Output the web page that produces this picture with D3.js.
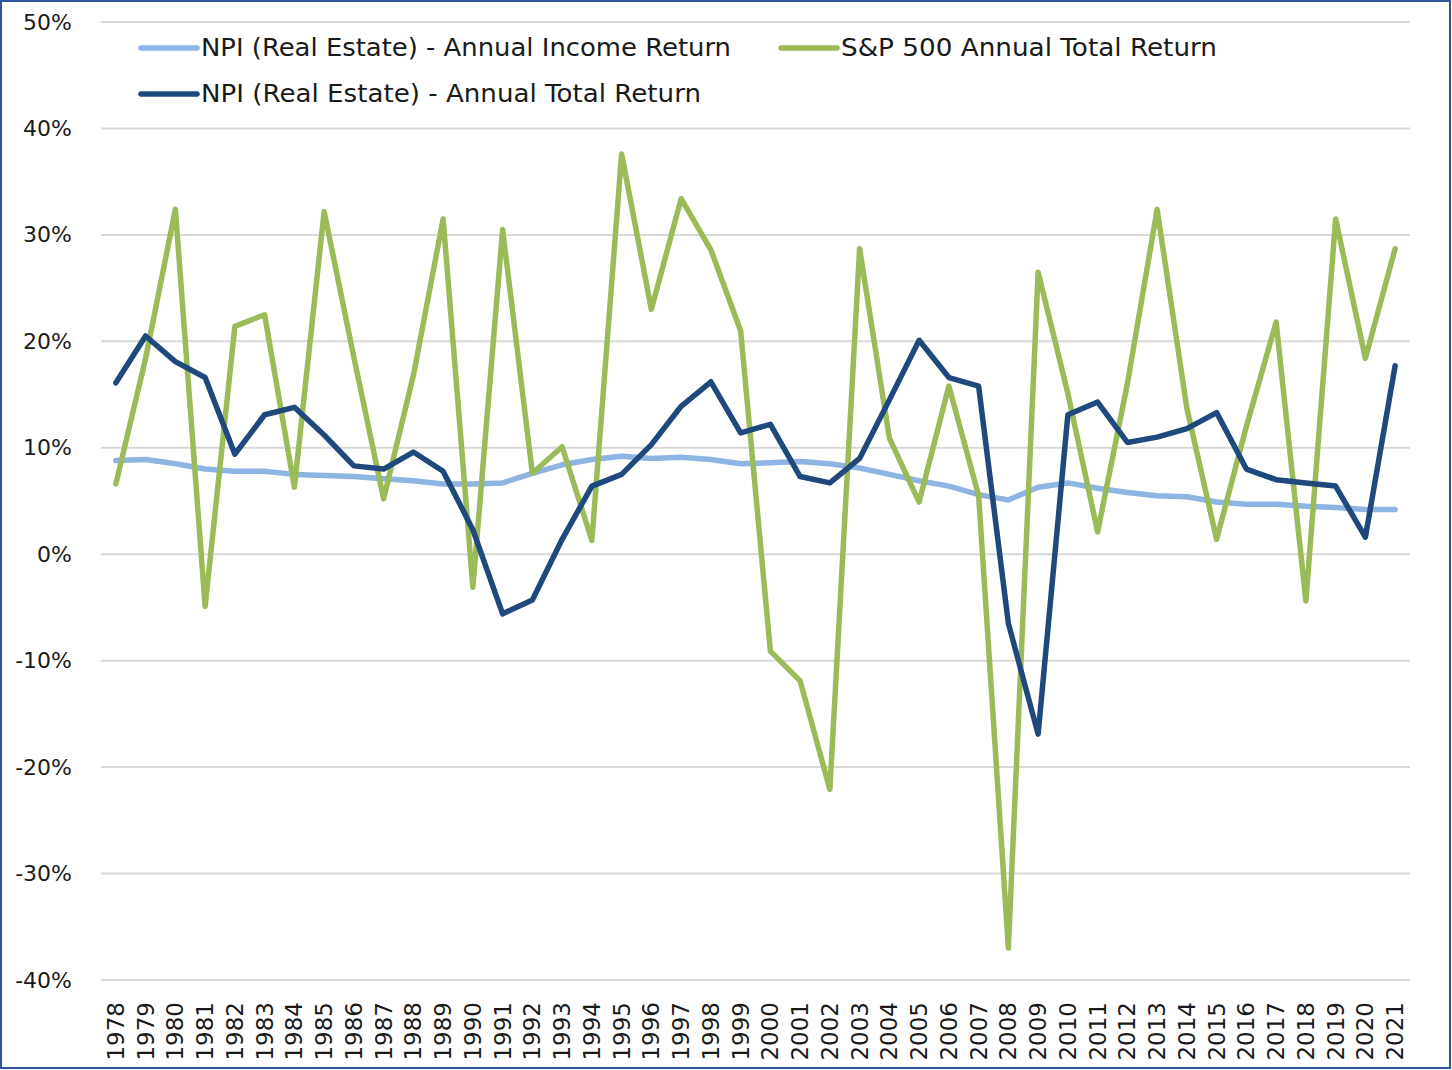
<!DOCTYPE html>
<html>
<head>
<meta charset="utf-8">
<script src="https://cdn.jsdelivr.net/npm/d3@7"></script>
<style>
  html, body { margin: 0; padding: 0; background: #fff; }
  svg { display: block; }
</style>
</head>
<body>
<div id="div_chart"></div>
<script>
// Years on the category axis
var years = [1978, 1979, 1980, 1981, 1982, 1983, 1984, 1985, 1986, 1987, 1988, 1989, 1990,
    1991, 1992, 1993, 1994, 1995, 1996, 1997, 1998, 1999, 2000, 2001, 2002, 2003, 2004,
    2005, 2006, 2007, 2008, 2009, 2010, 2011, 2012, 2013, 2014, 2015, 2016, 2017, 2018,
    2019, 2020, 2021];

// Series values in percent
var npiIncome = [8.8, 8.9, 8.5, 8.0, 7.8, 7.8, 7.5, 7.4, 7.3, 7.1, 6.9, 6.6, 6.6,
    6.7, 7.6, 8.4, 8.9, 9.2, 9.0, 9.1, 8.9, 8.5, 8.6, 8.7, 8.5, 8.1, 7.5,
    6.9, 6.4, 5.6, 5.1, 6.3, 6.7, 6.2, 5.8, 5.5, 5.4, 4.9, 4.7, 4.7, 4.5,
    4.4, 4.2, 4.2];
var sp500 = [6.6, 18.4, 32.4, -4.9, 21.4, 22.5, 6.3, 32.2, 18.5, 5.2, 16.8, 31.5, -3.1,
    30.5, 7.6, 10.1, 1.3, 37.6, 23.0, 33.4, 28.6, 21.0, -9.1, -11.9, -22.1, 28.7, 10.9,
    4.9, 15.8, 5.5, -37.0, 26.5, 15.1, 2.1, 16.0, 32.4, 13.7, 1.4, 12.0, 21.8, -4.4,
    31.5, 18.4, 28.7];
var npiTotal = [16.1, 20.5, 18.1, 16.6, 9.4, 13.1, 13.8, 11.2, 8.3, 8.0, 9.6, 7.8, 2.3,
    -5.6, -4.3, 1.4, 6.4, 7.5, 10.3, 13.9, 16.2, 11.4, 12.2, 7.3, 6.7, 9.0, 14.5,
    20.1, 16.6, 15.8, -6.5, -16.9, 13.1, 14.3, 10.5, 11.0, 11.8, 13.3, 8.0, 7.0, 6.7,
    6.4, 1.6, 17.7];

// Y ticks
var yTicks = [-40, -30, -20, -10, 0, 10, 20, 30, 40, 50];

// Series definitions (drawing order = legend order)
var seriesNames = ["NPI (Real Estate) - Annual Income Return", "S&P 500 Annual Total Return",
    "NPI (Real Estate) - Annual Total Return"];
var seriesValues = [npiIncome, sp500, npiTotal];
var seriesColors = ["#8db4e2", "#9bbb59", "#1f497d"];

// Basic size information
var svgWidth = 1452;
var svgHeight = 1070;
var plot = {left: 101, right: 1410, top: 22, bottom: 980};

var svg = d3.select("#div_chart")
    .append("svg")
        .attr("width", svgWidth)
        .attr("height", svgHeight)
        .style("font-family", "'DejaVu Sans', sans-serif");

// Border around the chart
svg.append("rect")
    .attr("x", 1)
    .attr("y", 1)
    .attr("width", svgWidth - 3)
    .attr("height", svgHeight - 3)
    .attr("fill", "#fff")
    .attr("stroke", "#2f5597")
    .attr("stroke-width", 2);

// Scales
var x = d3.scaleBand()
    .domain(years)
    .range([plot.left, plot.right]);

var y = d3.scaleLinear()
    .domain([-40, 50])
    .range([plot.bottom, plot.top]);

// Gridlines
svg.append("g")
    .selectAll("line")
    .data(yTicks)
    .join("line")
        .attr("x1", plot.left)
        .attr("x2", plot.right)
        .attr("y1", d => y(d))
        .attr("y2", d => y(d))
        .attr("stroke", "#d9d9d9")
        .attr("stroke-width", 2);

// Y axis labels
var yAxis = svg.append("g")
    .attr("transform", "translate(" + plot.left + ",0)")
    .call(d3.axisLeft(y).tickValues(yTicks).tickSize(0).tickPadding(29).tickFormat(d => d + "%"));
yAxis.select(".domain").remove();
yAxis.selectAll("text")
    .attr("font-family", "'DejaVu Sans', sans-serif")
    .attr("font-size", 22)
    .attr("fill", "#1a1a1a");

// X axis labels (rotated)
var xAxis = svg.append("g")
    .attr("transform", "translate(0," + plot.bottom + ")")
    .call(d3.axisBottom(x).tickSize(0).tickPadding(0));
xAxis.select(".domain").remove();
xAxis.selectAll("text")
    .attr("font-family", "'DejaVu Sans', sans-serif")
    .attr("font-size", 23)
    .attr("fill", "#1a1a1a")
    .attr("text-anchor", "end")
    .attr("transform", "translate(0,22) rotate(-90)")
    .attr("dy", "0.35em")
    .attr("dx", 0)
    .attr("x", 0)
    .attr("y", 0);

// Lines
var line = d3.line()
    .x((d, i) => x(years[i]) + x.bandwidth() / 2)
    .y(d => y(d));

svg.append("g")
    .selectAll("path")
    .data(seriesValues)
    .join("path")
        .attr("fill", "none")
        .attr("stroke", (d, i) => seriesColors[i])
        .attr("stroke-width", 5.5)
        .attr("stroke-linejoin", "round")
        .attr("stroke-linecap", "round")
        .attr("d", d => line(d));

// Legend
var legendItems = [
    {i: 0, x: 141, y: 48, w: 530},
    {i: 1, x: 781, y: 48, w: 376},
    {i: 2, x: 141, y: 94, w: 500}
];
var legend = svg.append("g")
    .selectAll("g")
    .data(legendItems)
    .join("g")
        .attr("transform", d => "translate(" + d.x + "," + d.y + ")");
legend.append("line")
    .attr("x1", 0)
    .attr("x2", 56)
    .attr("stroke", d => seriesColors[d.i])
    .attr("stroke-width", 5.5)
    .attr("stroke-linecap", "round");
legend.append("text")
    .attr("x", 60)
    .attr("dy", "0.35em")
    .attr("font-size", 24)
    .attr("fill", "#1a1a1a")
    .attr("textLength", d => d.w)
    .attr("lengthAdjust", "spacingAndGlyphs")
    .text(d => seriesNames[d.i]);
</script>
</body>
</html>
